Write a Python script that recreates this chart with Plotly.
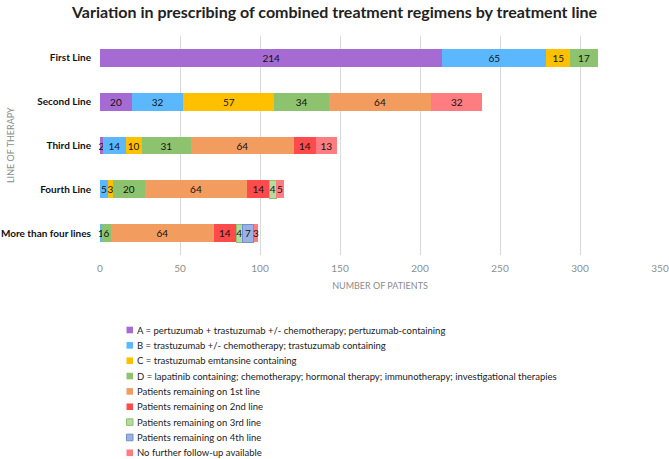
import plotly.graph_objects as go

categories = ["First Line", "Second Line", "Third Line", "Fourth Line", "More than four lines"]

series_names = [
    "A = pertuzumab + trastuzumab +/- chemotherapy; pertuzumab-containing",
    "B = trastuzumab +/- chemotherapy; trastuzumab containing",
    "C = trastuzumab emtansine containing",
    "D = lapatinib containing; chemotherapy; hormonal therapy; immunotherapy; investigational therapies",
    "Patients remaining on 1st line",
    "Patients remaining on 2nd line",
    "Patients remaining on 3rd line",
    "Patients remaining on 4th line",
    "No further follow-up available",
]

a_vals = [214, 20, 2, 0, 0]
b_vals = [65, 32, 14, 5, 1]
c_vals = [15, 57, 10, 3, 0]
d_vals = [17, 34, 31, 20, 6]
rem1_vals = [0, 64, 64, 64, 64]
rem2_vals = [0, 0, 14, 14, 14]
rem3_vals = [0, 0, 0, 4, 4]
rem4_vals = [0, 0, 0, 0, 7]
nofu_vals = [0, 32, 13, 5, 3]

x_ticks = [0, 50, 100, 150, 200, 250, 300, 350]

all_vals = [a_vals, b_vals, c_vals, d_vals, rem1_vals, rem2_vals, rem3_vals, rem4_vals, nofu_vals]

fill_colors = ["#A66BD3", "#5BB8FF", "#FFC000", "#8DC26F", "#F39C60",
               "#FF4B4B", "#B5DBA2", "#9BB1E2", "#FF7C80"]
line_colors = ["#A66BD3", "#5BB8FF", "#FFC000", "#8DC26F", "#F39C60",
               "#FF4B4B", "#8DC26F", "#7090D0", "#FF7C80"]
line_widths = [0, 0, 0, 0, 0, 0, 1, 1, 0]

FONT = "Lato"

fig = go.Figure()
for name, vals, fc, lc, lw in zip(series_names, all_vals, fill_colors, line_colors, line_widths):
    fig.add_trace(go.Bar(
        y=categories,
        x=[v if v else None for v in vals],
        name=name,
        orientation="h",
        marker=dict(color=fc, line=dict(color=lc, width=lw)),
        text=[str(v) if v else "" for v in vals],
        textposition="inside",
        insidetextanchor="middle",
        textangle=0,
        constraintext="none",
        textfont=dict(family=FONT, size=10, color="#111111"),
        cliponaxis=False,
        showlegend=False,
        hoverinfo="skip",
    ))

W, H = 669, 459
L, R, T, B = 100, 9, 36, 204
pw, ph = W - L - R, H - T - B

def px_x(px):
    return (px - L) / pw

def px_y(py):
    return (H - B - py) / ph

annotations = []
shapes = []
# custom compact legend
for i, (name, fc, lc, lw) in enumerate(zip(series_names, fill_colors, line_colors, line_widths)):
    cy = 330 + i * 15.35
    shapes.append(dict(
        type="rect", xref="paper", yref="paper",
        x0=px_x(126.5), x1=px_x(133), y0=px_y(cy + 3.3), y1=px_y(cy - 3.3),
        fillcolor=fc, line=dict(color=lc, width=lw),
    ))
    annotations.append(dict(
        text=name, xref="paper", yref="paper",
        x=px_x(135), y=px_y(cy), xanchor="left", yanchor="middle",
        showarrow=False, font=dict(family=FONT, size=9.5, color="#222222"),
    ))

annotations.append(dict(
    text="LINE OF THERAPY", xref="paper", yref="paper",
    x=px_x(10), y=px_y(145), xanchor="center", yanchor="middle",
    textangle=-90, showarrow=False,
    font=dict(family=FONT, size=9, color="#8C8C8C"),
))

fig.update_layout(
    width=W, height=H,
    margin=dict(l=L, r=R, t=T, b=B, autoexpand=False),
    paper_bgcolor="white", plot_bgcolor="white",
    barmode="stack",
    bargap=0.59,
    uniformtext=dict(minsize=10, mode="show"),
    title=dict(
        text="<b>Variation in prescribing of combined treatment regimens by treatment line</b>",
        x=0.5, xref="container", xanchor="center",
        y=1 - 12 / H, yref="container", yanchor="middle",
        font=dict(family=FONT, size=16, color="#222222"),
    ),
    xaxis=dict(
        range=[0, 350], tickvals=x_ticks, ticktext=[str(t) for t in x_ticks],
        showgrid=True, gridcolor="#D9D9D9", gridwidth=1,
        zeroline=False, showline=False, ticks="", automargin=False,
        ticklabelstandoff=6,
        tickfont=dict(family=FONT, size=10, color="#8C8C8C"),
        title=dict(text="NUMBER OF PATIENTS", standoff=9,
                   font=dict(family=FONT, size=9, color="#8C8C8C")),
    ),
    yaxis=dict(
        categoryorder="array", categoryarray=categories, autorange="reversed",
        showgrid=False, zeroline=False, showline=False, ticks="", automargin=False,
        ticklabelstandoff=8,
        tickfont=dict(family=FONT, size=10, color="#111111", weight="bold"),
    ),
    annotations=annotations,
    shapes=shapes,
)

fig.write_html("out.html", config={"displayModeBar": False},
               post_script="document.body.style.margin='0px';")
